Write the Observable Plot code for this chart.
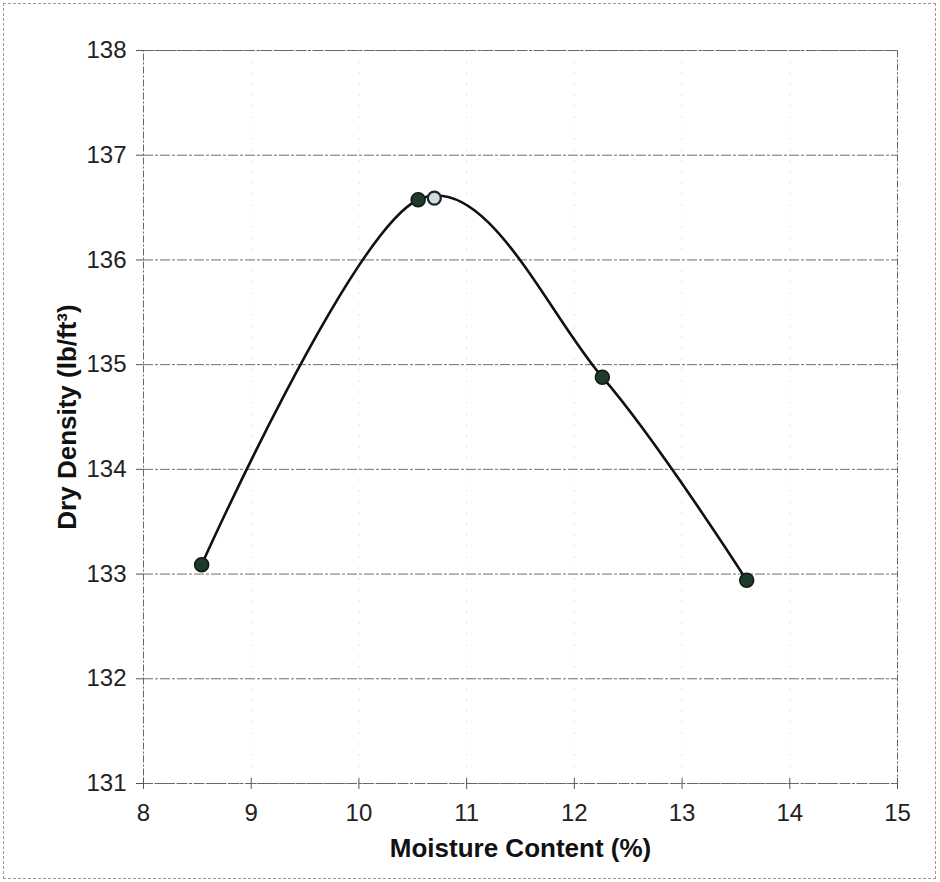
<!DOCTYPE html>
<html>
<head>
<meta charset="utf-8">
<script src="https://cdn.jsdelivr.net/npm/d3@7"></script>
<script src="https://cdn.jsdelivr.net/npm/@observablehq/plot@0.6"></script>
<style>
  html, body { margin: 0; padding: 0; background: #fff; }
  #wrap { position: relative; width: 940px; height: 882px; }
  #border { position: absolute; left: 3px; top: 3px; right: 4px; bottom: 3px; border: 1px dashed #999; pointer-events: none; }
</style>
</head>
<body>
<div id="wrap"><div id="chart"></div><div id="border"></div></div>
<script>
// Measured points (dark markers)
const moisture = [8.54, 10.55, 12.26, 13.60];
const density = [133.09, 136.575, 134.88, 132.94];
// Optimum point (light marker)
const optMoisture = [10.70];
const optDensity = [136.59];
// Tick values
const xTicks = [8, 9, 10, 11, 12, 13, 14, 15];
const yTicks = [131, 132, 133, 134, 135, 136, 137, 138];
const xTitle = "Moisture Content (%)";
const yTitle = "Dry Density (lb/ft³)";

const pts = moisture.map((m, i) => ({x: m, y: density[i]}));
const opt = optMoisture.map((m, i) => ({x: m, y: optDensity[i]}));

const chart = Plot.plot({
  width: 940,
  height: 882,
  marginLeft: 143,
  marginRight: 43,
  marginTop: 50,
  marginBottom: 99,
  x: {type: "linear", domain: [8, 15]},
  y: {type: "linear", domain: [131, 138]},
  style: {fontFamily: "'Liberation Sans', Arial, sans-serif", fontSize: "24px", color: "#222", background: "transparent"},
  marks: [
    Plot.gridX(xTicks, {stroke: "#aaa", strokeOpacity: 0.35, strokeDasharray: "2,9"}),
    Plot.gridY(yTicks, {stroke: "#555", strokeOpacity: 0.85, strokeDasharray: "10,2,3,2"}),
    Plot.frame({stroke: "#666", strokeDasharray: "7,2,2,2"}),
    Plot.ruleX(xTicks, {x: d => d, y1: 131, y2: 131, insetTop: -5, stroke: "#555"}),
    Plot.axisX(xTicks, {tickSize: 6, tickPadding: 14, label: null, stroke: "#555", fontSize: 24, tickFormat: "d"}),
    Plot.axisY(yTicks, {tickSize: 7, tickPadding: 10, label: null, stroke: "#555", fontSize: 24, tickFormat: "d"}),
    Plot.line(pts, {x: "x", y: "y", curve: "cardinal", stroke: "#111", strokeWidth: 2.6}),
    Plot.dot(pts, {x: "x", y: "y", r: 7, fill: "#1d3a2b", stroke: "#0d1a14", strokeWidth: 1.5}),
    Plot.dot(opt, {x: "x", y: "y", r: 6.5, fill: "#d6dbdb", stroke: "#16242c", strokeWidth: 2.2}),
    Plot.text([xTitle], {frameAnchor: "bottom", lineAnchor: "middle", textAnchor: "middle", dy: 65, text: d => d, fontSize: 26, fontWeight: "bold", fill: "#111"}),
    Plot.text([yTitle], {frameAnchor: "left", lineAnchor: "middle", textAnchor: "middle", dx: -76, rotate: -90, text: d => d, fontSize: 26, fontWeight: "bold", fill: "#111"})
  ]
});
document.getElementById("chart").appendChild(chart);
</script>
</body>
</html>
